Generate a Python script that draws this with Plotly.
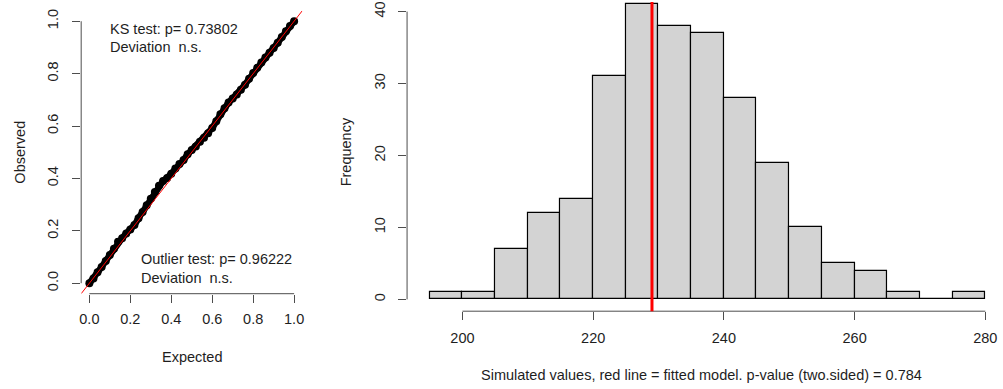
import plotly.graph_objects as go

W, H = 1003, 389

# ---- QQ plot of scaled residuals (expected uniform quantiles vs observed) ----
qq_expected = [0.00, 0.02, 0.04, 0.06, 0.08, 0.10, 0.12, 0.14, 0.16, 0.18,
               0.20, 0.22, 0.24, 0.26, 0.28, 0.30, 0.32, 0.34, 0.36, 0.38,
               0.40, 0.42, 0.44, 0.46, 0.48, 0.50, 0.52, 0.54, 0.56, 0.58,
               0.60, 0.62, 0.64, 0.66, 0.68, 0.70, 0.72, 0.74, 0.76, 0.78,
               0.80, 0.82, 0.84, 0.86, 0.88, 0.90, 0.92, 0.94, 0.96, 0.98, 1.00]
qq_observed = [0.000, 0.018, 0.042, 0.062, 0.085, 0.108, 0.132, 0.158, 0.172, 0.190,
               0.205, 0.222, 0.248, 0.272, 0.298, 0.322, 0.348, 0.372, 0.390, 0.402,
               0.418, 0.438, 0.455, 0.470, 0.492, 0.508, 0.522, 0.540, 0.555, 0.572,
               0.592, 0.618, 0.645, 0.668, 0.690, 0.705, 0.720, 0.738, 0.758, 0.780,
               0.802, 0.822, 0.842, 0.862, 0.880, 0.898, 0.918, 0.940, 0.962, 0.982, 1.000]
qq_ticks = [0.0, 0.2, 0.4, 0.6, 0.8, 1.0]
qq_ticktext = ["0.0", "0.2", "0.4", "0.6", "0.8", "1.0"]

ks_text = ["KS test: p= 0.73802", "Deviation\u00a0 n.s."]
outlier_text = ["Outlier test: p= 0.96222", "Deviation\u00a0 n.s."]

# ---- Histogram of simulated dispersion values ----
bin_edges = [195, 200, 205, 210, 215, 220, 225, 230, 235, 240,
             245, 250, 255, 260, 265, 270, 275, 280]
bin_counts = [1, 1, 7, 12, 14, 31, 41, 38, 37, 28, 19, 10, 5, 4, 1, 0, 1]
observed_value = 229
hist_xticks = [200, 220, 240, 260, 280]
hist_yticks = [0, 10, 20, 30, 40]
hist_xlabel = "Simulated values, red line = fitted model. p-value (two.sided) = 0.784"

FONT = "Liberation Sans, Arial, sans-serif"
TXT = "#1e1e1e"
AX = "#4d4d4d"
FS = 14.5

def px(x):
    return x / W

def py(y):
    return 1 - y / H

# plot regions (paper fractions)
qq_xdom = [px(79.5), px(301.5)]
qq_ydom = [py(293.2), py(8.8)]
h_xdom = [px(406.7), 1.0]
h_ydom = [py(310.8), 1.0]

fig = go.Figure()

fig.add_trace(go.Scatter(
    x=qq_expected, y=qq_observed, mode="lines+markers",
    line=dict(color="black", width=6.5),
    marker=dict(color="black", size=8, symbol="circle"),
    xaxis="x", yaxis="y", showlegend=False, hoverinfo="skip"))

centers = [(a + b) / 2 for a, b in zip(bin_edges[:-1], bin_edges[1:])]
widths = [b - a for a, b in zip(bin_edges[:-1], bin_edges[1:])]
fig.add_trace(go.Bar(
    x=centers, y=bin_counts, width=widths,
    marker=dict(color="#d3d3d3", line=dict(color="black", width=1.2)),
    xaxis="x2", yaxis="y2", showlegend=False, hoverinfo="skip"))

axis_common = dict(showgrid=False, zeroline=False, showline=False,
                   ticks="outside", ticklen=8, tickwidth=1, tickcolor=AX,
                   tickfont=dict(family=FONT, size=FS, color=TXT))

fig.update_layout(
    width=W, height=H, margin=dict(l=0, r=0, t=0, b=0),
    paper_bgcolor="white", plot_bgcolor="white",
    font=dict(family=FONT, size=FS, color=TXT),
    xaxis=dict(domain=qq_xdom, range=[-0.04, 1.04], anchor="y",
               tickvals=qq_ticks, ticktext=qq_ticktext, ticklabelstandoff=4,
               **axis_common),
    yaxis=dict(domain=qq_ydom, range=[-0.04, 1.04], anchor="x",
               tickvals=qq_ticks, ticktext=qq_ticktext, tickangle=-90,
               ticklabelstandoff=8, **axis_common),
    xaxis2=dict(domain=h_xdom, range=[191.53, 282.40], anchor="y2",
                tickvals=hist_xticks, ticklabelstandoff=5, **axis_common),
    yaxis2=dict(domain=h_ydom, range=[-1.64, 41.33], anchor="x2",
                tickvals=hist_yticks, tickangle=-90, ticklabelstandoff=7,
                **axis_common),
    bargap=0,
)

shapes = [
    # reference line y = x
    dict(type="line", xref="x", yref="y", x0=-0.04, y0=-0.04, x1=1.04, y1=1.04,
         line=dict(color="red", width=1), layer="above"),
    # axis lines spanning the tick range only
    dict(type="line", xref="x", yref="paper", x0=0, x1=1,
         y0=qq_ydom[0], y1=qq_ydom[0], line=dict(color=AX, width=1)),
    dict(type="line", xref="paper", yref="y", x0=qq_xdom[0], x1=qq_xdom[0],
         y0=0, y1=1, line=dict(color=AX, width=1)),
    dict(type="line", xref="x2", yref="paper", x0=hist_xticks[0], x1=hist_xticks[-1],
         y0=h_ydom[0], y1=h_ydom[0], line=dict(color=AX, width=1)),
    dict(type="line", xref="paper", yref="y2", x0=h_xdom[0], x1=h_xdom[0],
         y0=hist_yticks[0], y1=hist_yticks[-1], line=dict(color=AX, width=1)),
    # observed statistic
    dict(type="line", xref="x2", yref="y2 domain", x0=observed_value, x1=observed_value,
         y0=0, y1=1, line=dict(color="red", width=3), layer="above"),
]
fig.update_layout(shapes=shapes)

def note(text, x, y, xanchor="left", angle=0):
    return dict(text=text, x=x, y=y, xref="paper", yref="paper",
                xanchor=xanchor, yanchor="middle", showarrow=False,
                textangle=angle, font=dict(family=FONT, size=FS, color=TXT))

annotations = [
    note(ks_text[0], px(106), py(27)),
    note(ks_text[1], px(106), py(45)),
    note(outlier_text[0], px(138), py(258)),
    note(outlier_text[1], px(138), py(277)),
    note("Expected", px(190.5), py(357), xanchor="center"),
    note("Observed", px(18.5), py(151), xanchor="center", angle=-90),
    note("Frequency", px(345), py(150.5), xanchor="center", angle=-90),
    note(hist_xlabel, px(702), py(375), xanchor="center"),
]
fig.update_layout(annotations=annotations)

fig.write_html("out.html")
